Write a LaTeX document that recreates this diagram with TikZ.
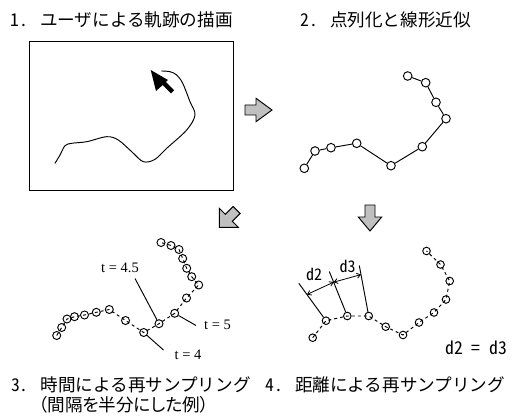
\documentclass[tikz,border=0pt]{standalone}
\usepackage{fontspec}
\setmainfont{Liberation Serif}
\newfontfamily\jpfont[RawFeature=+hwid]{Noto Sans CJK JP}
\newfontfamily\jppfont[RawFeature=+palt]{Noto Sans CJK JP}
\usetikzlibrary{arrows.meta,calc}
\definecolor{arrowgray}{RGB}{192,192,192}
\begin{document}
\begin{tikzpicture}[x=1pt,y=-1pt,
  title/.style={font=\jpfont\fontsize{17.6}{20}\selectfont, anchor=west, inner sep=0pt},
  ptitle/.style={font=\jppfont\fontsize{17.6}{20}\selectfont, anchor=west, inner sep=0pt},
  dlabel/.style={font=\jpfont\fontsize{16}{18}\selectfont, inner sep=0pt},
  tlabel/.style={font=\fontsize{14.5}{16}\selectfont, inner sep=0pt},
  thin line/.style={line width=0.95pt},
  dotq/.style={circle, draw, fill=white, minimum size=8.6pt, inner sep=0pt, line width=0.95pt},
  dotp/.style={circle, draw, minimum size=8pt, inner sep=0pt, line width=0.95pt},
  dotd/.style={circle, draw, minimum size=7.6pt, inner sep=0pt, line width=0.95pt},
  dashline/.style={line width=0.95pt, dash pattern=on 3pt off 3pt},
  blockarrow/.style={draw, fill=arrowgray, line width=0.95pt, line join=miter},
  dimarrow/.style={line width=0.8pt, {Straight Barb[length=3.5pt,width=5pt]}-{Straight Barb[length=3.5pt,width=5pt]}}
]
\useasboundingbox (0,0) rectangle (527,417);

% ---------- titles ----------
\node[title] (t1) at (10.5,19.5) {1. ユーザによる軌跡の描画};
\node[title] (t2) at (300.5,19.5) {2. 点列化と線形近似};
\node[title] (t3) at (11,385) {3. 時間による再サンプリング};
\node[ptitle] (t3b) at (38.5,405) {（間隔を半分にした例）};
\node[title] (t4) at (265.5,385) {4. 距離による再サンプリング};

% ---------- panel 1 ----------
\node[draw, thin line, minimum width=204pt, minimum height=149pt, inner sep=0pt] (canvas) at (131,115.5) {};
\draw[thin line, line cap=round] plot[smooth, tension=0.55] coordinates {(55,163.3) (60,155) (65,145.7) (71.7,143.3) (86.7,141.7) (106.7,136.7) (118.3,140) (131.7,151.7) (143.3,161.7) (155,159.3) (166.7,148.3) (186.7,130) (195,115) (190,101.7) (182.7,83.3) (176.7,75) (170,71.7) (161.7,71)};
\fill[black] (150.7,70) -- (156,91) -- (162.6,85.1) -- (170.9,93.4) -- (174.1,90.2) -- (165.8,81.9) -- (168,80) -- cycle;

% ---------- block arrows ----------
\draw[blockarrow] (245,105) -- (256,105) -- (256,98.3) -- (272,110) -- (256,121.7) -- (256,115) -- (245,115) -- cycle;
\draw[blockarrow] (365,205) -- (365,217) -- (358.3,217) -- (370,231) -- (381.7,217) -- (375,217) -- (375,205) -- cycle;
\draw[blockarrow] (219.3,227.3) -- (219.3,208.3) -- (225.3,214.3) -- (233.1,206.5) -- (240.1,213.5) -- (232.3,221.3) -- (238.3,227.3) -- cycle;

% ---------- panel 2 ----------
\foreach \n/\x/\y in {1/304.3/168.3, 2/315/151, 3/331/147.7, 4/356.7/143.3, 5/391/165.7, 6/422.3/146.7, 7/446/118.7, 8/436/102.3, 9/425.7/82.7, 10/407.7/76}
  \node[dotq] (q\n) at (\x,\y) {};
\draw[thin line] (q1) -- (q2) -- (q3) -- (q4) -- (q5) -- (q6) -- (q7) -- (q8) -- (q9) -- (q10);

% ---------- panel 3 ----------
\foreach \n/\x/\y in {1/56.7/335.5, 2/61.7/327.5, 3/67/319, 4/74.5/316.7, 5/84.5/315, 6/96.3/312.3, 7/109.3/309.5, 8/125.5/320.5, 9/143.7/332.5, 10/159/323.7, 11/174.7/313.3, 12/186.5/298, 13/198.7/285, 14/191.7/276.7, 15/186.7/268.3, 16/182.7/258.5, 17/179/249.5, 18/171/245.5, 19/161/242.5}
  \node[dotp] (p\n) at (\x,\y) {};
\draw[dashline] (p1.center) \foreach \i in {2,...,19} { -- (p\i.center) };

\node[tlabel] (l45) at (120,268.3) {t = 4.5};
\node[tlabel] (l5) at (217.5,325) {t = 5};
\node[tlabel] (l4) at (188,355) {t = 4};
\coordinate (k45) at (135,278.5);
\coordinate (k5) at (196,325.5);
\coordinate (k4) at (163.5,350);
\draw[thin line] (k45) -- (p10);
\draw[thin line] (p11) -- (k5);
\draw[thin line] (p9) -- (k4);

% ---------- panel 4 ----------
\foreach \n/\x/\y in {1/312.7/337.7, 2/326/320.7, 3/347.3/316, 4/368.7/316, 5/385.7/326.7, 6/403/335, 7/419/322.5, 8/434/312.5, 9/446/299.5, 10/449.7/281, 11/440.5/264.5, 12/426.5/251}
  \node[dotd] (c\n) at (\x,\y) {};
\draw[dashline] (c1.center) \foreach \i in {2,...,12} { -- (c\i.center) };

\coordinate (e1) at (298.8,283.3);
\coordinate (e2) at (329.3,271.5);
\coordinate (e3) at (359.3,265.5);
\draw[thin line] (c2) -- (e1);
\draw[thin line] (c3) -- (e2);
\draw[thin line] (c4) -- (e3);
\coordinate (a1) at ($(c2.center)!0.7!(e1)$);
\coordinate (a2) at ($(c3.center)!0.76!(e2)$);
\coordinate (a3) at ($(c4.center)!0.82!(e3)$);
\draw[dimarrow] (a1) -- (a2);
\draw[dimarrow] (a2) -- (a3);
\node[dlabel] (d2) at (314,274.5) {d2};
\node[dlabel] (d3) at (347.5,266.5) {d3};
\node[dlabel, font=\jpfont\fontsize{17.6}{20}\selectfont] (eq) at (476,347.5) {d2 = d3};
\end{tikzpicture}
\end{document}
